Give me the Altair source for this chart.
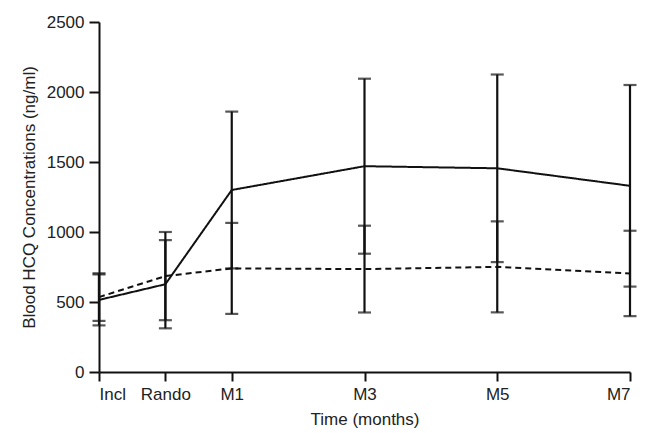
import altair as alt
import pandas as pd

times = [-1, 0, 1, 3, 5, 7]
labels = ["Incl", "Rando", "M1", "M3", "M5", "M7"]
solid_mean = [515, 627, 1300, 1470, 1455, 1330]
solid_sd = [182, 315, 560, 625, 670, 720]
dashed_mean = [535, 685, 740, 735, 751, 704]
dashed_sd = [170, 315, 325, 310, 325, 305]

rows = []
for g, means, sds in [("A", solid_mean, solid_sd), ("B", dashed_mean, dashed_sd)]:
    for t, m, s in zip(times, means, sds):
        rows.append({"group": g, "t": t, "mean": m, "lo": m - s, "hi": m + s})
df = pd.DataFrame(rows)
caps = pd.concat([
    df[["group", "t", "lo"]].rename(columns={"lo": "v"}),
    df[["group", "t", "hi"]].rename(columns={"hi": "v"}),
])

label_expr = " : ".join(
    f"datum.value == {t} ? '{l}'" for t, l in zip(times, labels)
) + " : ''"

font = "Liberation Sans"
common = dict(
    grid=False, domainWidth=2, tickWidth=2,
    labelFont=font, titleFont=font, labelFontSize=17, titleFontSize=17,
    labelColor="#222", titleColor="#222", domainColor="#111", tickColor="#111",
    titleFontWeight="normal",
)
x_enc = alt.X(
    "t:Q",
    scale=alt.Scale(domain=[-1, 7], nice=False, zero=False),
    axis=alt.Axis(
        values=times, labelExpr=label_expr, title="Time (months)",
        tickSize=9, labelPadding=5, titlePadding=9, **common,
    ),
)
y_scale = alt.Scale(domain=[0, 2500], nice=False)
y_axis = alt.Axis(
    values=[0, 500, 1000, 1500, 2000, 2500], format="d",
    title="Blood HCQ Concentrations (ng/ml)",
    tickSize=10, labelPadding=5, titlePadding=8, **common,
)

base = alt.Chart(df)
lines = base.mark_line(color="#111", strokeWidth=2).encode(
    x=x_enc,
    y=alt.Y("mean:Q", scale=y_scale, axis=y_axis),
    strokeDash=alt.StrokeDash(
        "group:N",
        scale=alt.Scale(domain=["A", "B"], range=[[1, 0], [6, 4]]),
        legend=None,
    ),
    detail="group:N",
)
bars = base.mark_rule(color="#111", strokeWidth=2.2).encode(
    x="t:Q", y="lo:Q", y2="hi:Q"
)
cap_marks = alt.Chart(caps).mark_tick(
    color="#111", orient="horizontal", size=13, thickness=2.2
).encode(x="t:Q", y="v:Q")

chart = (
    alt.layer(bars, cap_marks, lines)
    .properties(
        width=531, height=350,
        autosize=alt.AutoSizeParams(type="none"),
        padding={"left": 91, "top": 14, "right": 11, "bottom": 61},
    )
    .configure_view(stroke=None)
)
chart.save("out.html", embed_options={"renderer": "svg", "actions": False})
